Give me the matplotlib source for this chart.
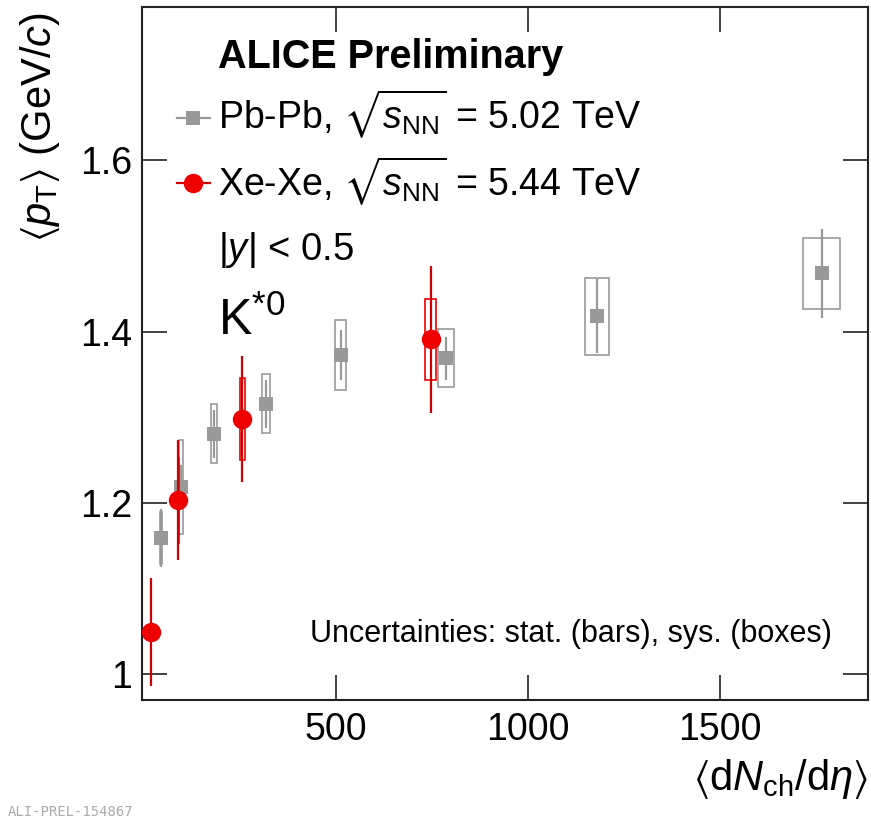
import matplotlib
matplotlib.use("Agg")
import matplotlib.pyplot as plt
from matplotlib.patches import Rectangle

plt.rcParams['font.family'] = ['Liberation Sans', 'DejaVu Sans']
plt.rcParams['mathtext.fontset'] = 'custom'
plt.rcParams['mathtext.rm'] = 'Liberation Sans'
plt.rcParams['mathtext.it'] = 'Liberation Sans:italic'
plt.rcParams['mathtext.bf'] = 'Liberation Sans:bold'
plt.rcParams['mathtext.fallback'] = 'stixsans'

# Pb-Pb, sqrt(s_NN) = 5.02 TeV
pb_dndeta = [44.9, 96.3, 183, 318, 512, 786, 1180, 1764]
pb_dndeta_err = [3.4, 5.8, 8, 10, 15, 20, 31, 49]
pb_mpt = [1.159, 1.219, 1.281, 1.316, 1.373, 1.369, 1.418, 1.468]
pb_stat = [0.034, 0.025, 0.028, 0.028, 0.029, 0.025, 0.043, 0.052]
pb_sys = [0.030, 0.055, 0.034, 0.034, 0.041, 0.034, 0.045, 0.041]

# Xe-Xe, sqrt(s_NN) = 5.44 TeV
xe_dndeta = [18.5, 90, 256, 747]
xe_dndeta_err = [1.1, 2.5, 6.5, 14]
xe_mpt = [1.049, 1.203, 1.298, 1.391]
xe_stat = [0.063, 0.070, 0.074, 0.086]
xe_sys = [0.048, 0.050, 0.048, 0.047]

x_ticks = [500, 1000, 1500]
y_ticks = [1.0, 1.2, 1.4, 1.6]
y_ticklabels = ['1', '1.2', '1.4', '1.6']

GREY = '#999999'
RED = '#ee0000'
DARKRED = '#cc0000'

W, H = 871, 818
fig = plt.figure(figsize=(W / 100, H / 100), dpi=100)
ax = fig.add_axes([142 / W, 1 - 700 / H, (868 - 142) / W, (700 - 7) / H])
ax.set_xlim(-5, 1885)
ax.set_ylim(0.970, 1.779)


def draw_series(x, xerr, y, stat, sys, color, linecolor, marker, ms, z):
    for xi, xe, yi, se in zip(x, xerr, y, sys):
        ax.add_patch(Rectangle((xi - xe, yi - se), 2 * xe, 2 * se, fill=False,
                               edgecolor=color, lw=1.2, zorder=z))
    ax.errorbar(x, y, yerr=stat, fmt='none', ecolor=linecolor, elinewidth=1.6,
                capsize=0, zorder=z + 0.5)
    ax.plot(x, y, ls='none', marker=marker, ms=ms, color=color,
            markeredgewidth=0, zorder=z + 1)


draw_series(pb_dndeta, pb_dndeta_err, pb_mpt, pb_stat, pb_sys, GREY, GREY, 's', 10.5, 3)
draw_series(xe_dndeta, xe_dndeta_err, xe_mpt, xe_stat, xe_sys, RED, DARKRED, 'o', 14, 6)

ax.set_xticks(x_ticks)
ax.set_yticks(y_ticks)
ax.set_yticklabels(y_ticklabels)
ax.tick_params(direction='in', length=18, width=1.2, color='#222222',
               labelsize=27, top=True, right=True, pad=9)
ax.tick_params(axis='y', pad=7)
for s in ax.spines.values():
    s.set_linewidth(1.5)
    s.set_color('#222222')


def fx(px):
    return (px - 142) / (868 - 142)


def fy(py):
    return (700 - py) / (700 - 7)


tr = ax.transAxes
ax.text(fx(218), fy(68), 'ALICE Preliminary', transform=tr, fontsize=28.5,
        fontweight='bold', va='baseline', ha='left')

# legend entries
ax.plot([fx(177), fx(210)], [fy(118), fy(118)], transform=tr, color=GREY, lw=1.6)
ax.plot([fx(193)], [fy(118)], transform=tr, marker='s', ms=10.5, color=GREY, mew=0)
ax.plot([fx(177), fx(210)], [fy(183), fy(183)], transform=tr, color=DARKRED, lw=1.6)
ax.plot([fx(193)], [fy(183)], transform=tr, marker='o', ms=14, color=RED, mew=0)
ax.text(fx(218), fy(128), r'Pb-Pb, $\sqrt{s_{\rm NN}}$ = 5.02 TeV', transform=tr,
        fontsize=27, va='baseline', ha='left')
ax.text(fx(218), fy(195), r'Xe-Xe, $\sqrt{s_{\rm NN}}$ = 5.44 TeV', transform=tr,
        fontsize=27, va='baseline', ha='left')
ax.text(fx(218), fy(260), r'|$y$| < 0.5', transform=tr, fontsize=27.5,
        va='baseline', ha='left')
ax.text(fx(218), fy(335), r'K$^{*0}$', transform=tr, fontsize=36,
        va='baseline', ha='left')
ax.text(fx(310), fy(642), 'Uncertainties: stat. (bars), sys. (boxes)', transform=tr,
        fontsize=22, va='baseline', ha='left')

fig.text(40 / W, 1 - 12 / H, r'$\langle p_{\rm T}\rangle$ (GeV/$c$)', rotation=90,
         fontsize=30, ha='center', va='top')
fig.text(868 / W, 1 - 790 / H, r'$\langle {\rm d}N_{\rm ch}/{\rm d}\eta\rangle$',
         fontsize=30, ha='right', va='baseline')
fig.text(8 / W, 1 - 816 / H, 'ALI-PREL-154867', fontsize=10, color='#aaaaaa',
         family='DejaVu Sans Mono', ha='left', va='baseline')

fig.savefig('out.png', dpi=100)
